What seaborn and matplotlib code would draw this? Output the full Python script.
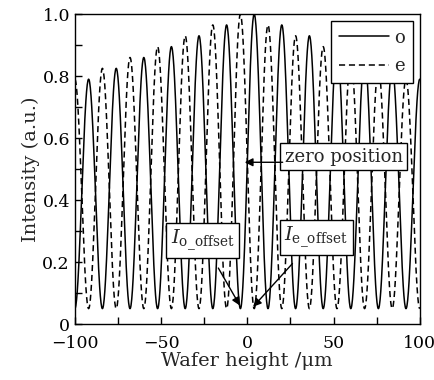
import matplotlib
matplotlib.use("Agg")
import matplotlib.pyplot as plt
import numpy as np
import pandas as pd
import seaborn as sns

sns.set_style("ticks")
plt.rcParams['font.family'] = ['DejaVu Serif']
plt.rcParams['mathtext.fontset'] = 'dejavuserif'

# extrema (x in um, intensity)
o_peak_x = [-92, -76, -60, -44, -28, -12, 4, 20, 36, 52, 68, 84, 100]
o_peak_y = [0.79, 0.825, 0.86, 0.895, 0.93, 0.965, 1.0, 0.965, 0.93, 0.895, 0.86, 0.825, 0.79]
o_valley_x = [-100, -84, -68, -52, -36, -20, -4, 12, 28, 44, 60, 76, 92]
o_valley_y = [0.05, 0.05, 0.05, 0.05, 0.05, 0.05, 0.05, 0.05, 0.05, 0.05, 0.05, 0.05, 0.05]

e_peak_x = [-100, -84, -68, -52, -36, -20, -4, 12, 28, 44, 60, 76, 92]
e_peak_y = [0.79, 0.825, 0.86, 0.895, 0.93, 0.965, 1.0, 0.965, 0.93, 0.895, 0.86, 0.825, 0.79]
e_valley_x = [-92, -76, -60, -44, -28, -12, 4, 20, 36, 52, 68, 84, 100]
e_valley_y = [0.05, 0.05, 0.05, 0.05, 0.05, 0.05, 0.05, 0.05, 0.05, 0.05, 0.05, 0.05, 0.05]


def fringe(px, py, vx, vy):
    # smooth half-cosine between neighbouring extrema
    ex = np.array(px + vx, dtype=float)
    ey = np.array(py + vy, dtype=float)
    order = np.argsort(ex)
    ex, ey = ex[order], ey[order]
    xs, ys = [], []
    for i in range(len(ex) - 1):
        t = np.linspace(0, 1, 40, endpoint=False)
        xs.append(ex[i] + (ex[i + 1] - ex[i]) * t)
        ys.append(ey[i] + (ey[i + 1] - ey[i]) * (1 - np.cos(np.pi * t)) / 2)
    xs.append([ex[-1]])
    ys.append([ey[-1]])
    return np.concatenate(xs), np.concatenate(ys)


ox, oy = fringe(o_peak_x, o_peak_y, o_valley_x, o_valley_y)
ex_, ey_ = fringe(e_peak_x, e_peak_y, e_valley_x, e_valley_y)
df = pd.concat([
    pd.DataFrame({"x": ox, "y": oy, "beam": "o"}),
    pd.DataFrame({"x": ex_, "y": ey_, "beam": "e"}),
])

fig = plt.figure(figsize=(4.35, 3.8), dpi=100)
ax = fig.add_axes([0.172, 0.147, 0.793, 0.816])

sns.lineplot(data=df, x="x", y="y", style="beam", color="black",
             dashes={"o": "", "e": (4, 2.5)}, linewidth=1.1, ax=ax,
             sort=False, estimator=None)

ax.set_xlim(-100, 100)
ax.set_ylim(0, 1.0)
ax.set_xticks([-100, -50, 0, 50, 100])
ax.set_xticks([-75, -25, 25, 75], minor=True)
ax.set_yticks([0, 0.2, 0.4, 0.6, 0.8, 1.0])
ax.set_yticks([0.1, 0.3, 0.5, 0.7, 0.9], minor=True)
ax.set_yticklabels(["0", "0.2", "0.4", "0.6", "0.8", "1.0"])
ax.set_xticklabels(["\u2212100", "\u221250", "0", "50", "100"])
ax.tick_params(axis="both", which="both", direction="in", labelsize=12.5,
               width=1.0, colors="black", length=5)
ax.tick_params(axis="x", which="major", pad=8)
for s in ax.spines.values():
    s.set_linewidth(1.0)
    s.set_color("black")

ax.set_xlabel("Wafer height /\u03bcm", fontsize=14, labelpad=0)
ax.set_ylabel("Intensity (a.u.)", fontsize=14, labelpad=2)

leg = ax.legend(loc="upper right", fontsize=13, handlelength=2.8,
                frameon=True, fancybox=False, edgecolor="black",
                borderaxespad=0.4, labelspacing=0.6, handletextpad=0.3)
leg.get_frame().set_linewidth(1.0)
leg.get_frame().set_alpha(1)

bbox = dict(boxstyle="square,pad=0.25", fc="white", ec="black", lw=1.0)
ax.text(21.7, 0.54, "zero position", fontsize=13, ha="left", va="center",
        bbox=bbox)
ax.annotate("", xy=(-1.5, 0.522), xytext=(20.5, 0.522),
            arrowprops=dict(arrowstyle="-|>", color="black", lw=1.0,
                            mutation_scale=12, shrinkA=0, shrinkB=0))
ax.annotate(r"$I_{\rm o\_offset}$", xy=(-4.3, 0.06), xytext=(-26, 0.27),
            fontsize=14, ha="center", va="center", bbox=bbox,
            arrowprops=dict(arrowstyle="-|>", color="black", lw=1.0,
                            mutation_scale=12, shrinkA=8, shrinkB=0))
ax.annotate(r"$I_{\rm e\_offset}$", xy=(3.4, 0.056), xytext=(40, 0.28),
            fontsize=14, ha="center", va="center", bbox=bbox,
            arrowprops=dict(arrowstyle="-|>", color="black", lw=1.0,
                            mutation_scale=12, shrinkA=8, shrinkB=0))

fig.savefig("out.png", dpi=100)
